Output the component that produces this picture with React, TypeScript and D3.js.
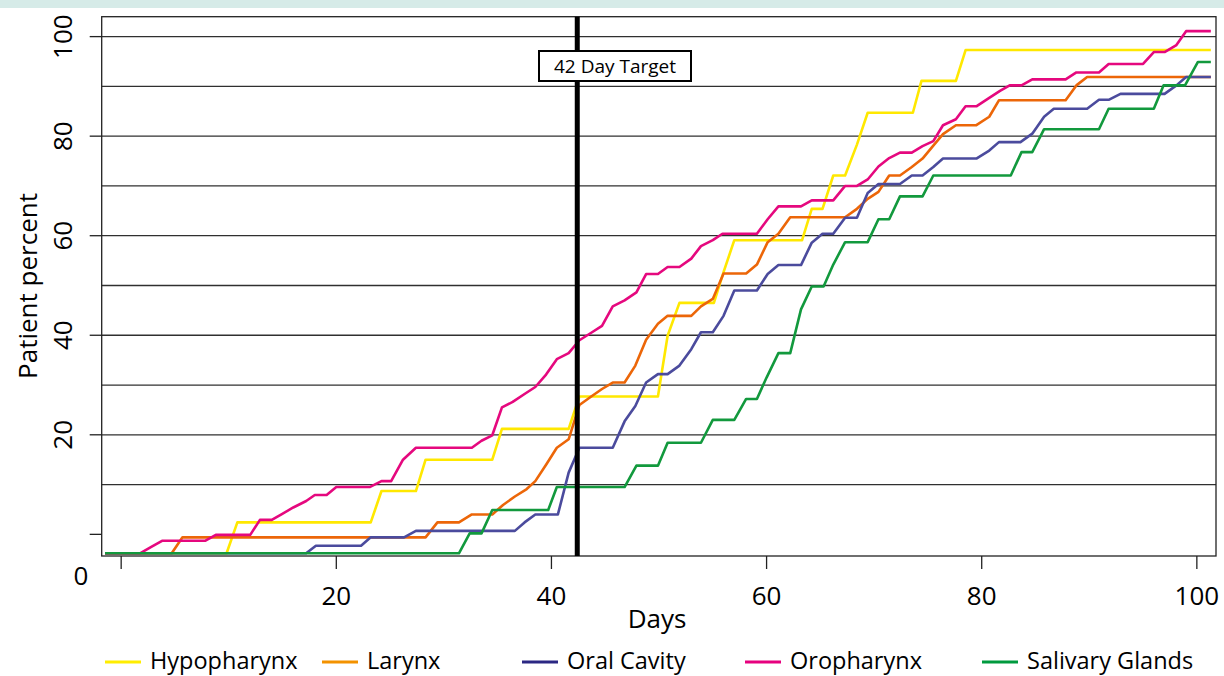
import React from "react";
import * as d3 from "d3";

// ---------- data (days, patient percent) ----------
const seriesNames = ["Hypopharynx", "Larynx", "Oral Cavity", "Oropharynx", "Salivary Glands"];

const hypopharynx: [number, number][] = [
  [-1.5, -3.8], [9.8, -3.8], [10.8, 2.4], [23.2, 2.4], [24.2, 8.7], [27.4, 8.7], [28.3, 15.0], [34.5, 15.0],
  [35.4, 21.2], [41.6, 21.2], [42.6, 27.7], [49.9, 27.7], [50.8, 39.9], [51.9, 46.5], [55.1, 46.5], [56.0, 52.7],
  [57.0, 59.1], [63.3, 59.1], [64.2, 65.4], [65.2, 65.4], [66.2, 72.1], [67.3, 72.1], [68.4, 78.3], [69.4, 84.7],
  [73.6, 84.7], [74.4, 91.1], [77.6, 91.1], [78.5, 97.3], [101.3, 97.3],
];

const larynx: [number, number][] = [
  [-1.5, -3.8], [4.7, -3.8], [5.7, -0.6], [28.3, -0.6], [29.4, 2.4], [31.4, 2.4], [32.6, 4.0], [34.5, 4.0],
  [35.5, 5.9], [36.6, 7.6], [37.7, 9.1], [38.5, 10.7], [39.5, 14.0], [40.5, 17.4], [41.6, 19.1], [42.6, 26.0],
  [43.7, 27.7], [44.7, 29.2], [45.7, 30.5], [46.8, 30.5], [47.8, 33.9], [48.8, 39.1], [49.9, 42.3], [50.8, 43.9],
  [53.0, 43.9], [53.9, 45.8], [55.0, 47.3], [56.0, 52.4], [58.1, 52.4], [59.1, 54.2], [60.1, 58.7], [61.1, 60.4],
  [62.2, 63.7], [67.3, 63.7], [68.4, 65.4], [69.4, 67.4], [70.4, 68.8], [71.4, 72.1], [72.4, 72.1], [73.5, 73.8],
  [74.5, 75.5], [75.5, 78.1], [76.4, 80.4], [77.6, 82.2], [79.5, 82.2], [80.7, 83.9], [81.6, 87.2], [87.8, 87.2],
  [88.8, 90.2], [89.8, 91.9], [101.3, 91.9],
];

const oralCavity: [number, number][] = [
  [-1.5, -3.8], [17.2, -3.8], [18.1, -2.3], [22.3, -2.3], [23.2, -0.6], [26.3, -0.6], [27.4, 0.7], [36.6, 0.7],
  [37.5, 2.4], [38.5, 4.0], [40.6, 4.0], [41.6, 12.4], [42.6, 17.4], [45.7, 17.4], [46.8, 22.7], [47.8, 25.8],
  [48.8, 30.5], [49.9, 32.2], [50.8, 32.2], [51.9, 33.9], [53.0, 37.2], [53.9, 40.6], [55.0, 40.6], [56.0, 43.9],
  [57.0, 49.0], [59.1, 49.0], [60.1, 52.3], [61.1, 54.1], [63.2, 54.1], [64.2, 58.6], [65.2, 60.4], [66.2, 60.4],
  [67.3, 63.6], [68.4, 63.6], [69.4, 68.6], [70.4, 70.4], [72.4, 70.4], [73.5, 72.1], [74.5, 72.1], [75.5, 73.8],
  [76.4, 75.5], [79.5, 75.5], [80.7, 77.1], [81.6, 78.8], [83.6, 78.8], [84.7, 80.5], [85.8, 83.9], [86.7, 85.5],
  [89.8, 85.5], [90.9, 87.3], [91.8, 87.3], [92.9, 88.5], [97.0, 88.5], [98.1, 90.2], [99.0, 91.9], [101.3, 91.9],
];

const oropharynx: [number, number][] = [
  [-1.5, -3.8], [1.75, -3.8], [2.8, -2.5], [3.8, -1.3], [7.8, -1.3], [8.8, -0.1], [12.0, -0.1], [12.9, 2.9],
  [14.0, 2.9], [14.9, 4.0], [16.0, 5.4], [17.2, 6.7], [18.0, 7.9], [19.1, 7.9], [20.0, 9.5], [23.1, 9.5],
  [24.2, 10.7], [25.1, 10.7], [26.2, 15.0], [27.4, 17.4], [32.6, 17.4], [33.5, 18.8], [34.5, 19.9], [35.4, 25.5],
  [36.4, 26.6], [37.5, 28.2], [38.5, 29.6], [39.5, 32.1], [40.5, 35.2], [41.6, 36.4], [42.6, 39.0], [43.7, 40.5],
  [44.7, 41.9], [45.7, 45.8], [46.8, 47.0], [47.9, 48.6], [48.8, 52.3], [49.9, 52.3], [50.8, 53.7], [51.9, 53.7],
  [53.0, 55.4], [53.9, 57.9], [55.0, 59.1], [55.9, 60.4], [59.1, 60.4], [60.1, 63.3], [61.1, 65.9], [63.2, 65.9],
  [64.2, 67.1], [66.2, 67.1], [67.3, 70.0], [68.4, 70.0], [69.4, 71.3], [70.4, 73.9], [71.4, 75.6], [72.4, 76.7],
  [73.5, 76.7], [74.5, 78.0], [75.5, 79.0], [76.4, 82.2], [77.6, 83.4], [78.5, 86.0], [79.5, 86.0], [80.7, 87.7],
  [81.7, 89.1], [82.6, 90.2], [83.7, 90.2], [84.7, 91.4], [87.8, 91.4], [88.8, 92.8], [90.9, 92.8], [91.8, 94.5],
  [95.0, 94.5], [96.0, 96.9], [97.0, 96.9], [98.1, 98.3], [99.0, 101.1], [101.3, 101.1],
];

const salivaryGlands: [number, number][] = [
  [-1.5, -3.8], [31.4, -3.8], [32.4, 0.2], [33.5, 0.2], [34.5, 4.9], [39.7, 4.9], [40.5, 9.5], [46.8, 9.5],
  [47.9, 13.8], [49.9, 13.8], [50.8, 18.4], [53.9, 18.4], [55.0, 23.0], [57.0, 23.0], [58.1, 27.2], [59.1, 27.2],
  [60.0, 31.5], [61.1, 36.4], [62.2, 36.4], [63.2, 45.2], [64.2, 49.8], [65.3, 49.8], [66.2, 54.2], [67.3, 58.7],
  [69.4, 58.7], [70.4, 63.3], [71.4, 63.3], [72.4, 67.9], [74.5, 67.9], [75.5, 72.1], [82.7, 72.1], [83.7, 76.8],
  [84.7, 76.8], [85.8, 81.4], [90.9, 81.4], [91.8, 85.5], [96.0, 85.5], [96.9, 90.2], [98.9, 90.2], [100.1, 94.9],
  [101.3, 94.9],
];

const seriesData = [hypopharynx, larynx, oralCavity, oropharynx, salivaryGlands];
const lineColors = ["#ffe800", "#ec6608", "#4b4b9d", "#e5087e", "#12993d"];
const legendColors = ["#ffed00", "#f39200", "#2b2783", "#e6007e", "#009a3e"];

const xTicks = [0, 20, 40, 60, 80, 100];
const xTickLabels = ["", "20", "40", "60", "80", "100"];
const yTicks = [0, 20, 40, 60, 80, 100];
const yTickLabels = ["", "20", "40", "60", "80", "100"];
const gridValues = [10, 20, 30, 40, 50, 60, 70, 80, 90, 100];
const targetDay = 42.4;
const targetLabel = "42 Day Target";

// ---------- layout ----------
const W = 1224;
const H = 676;
const plot = { left: 101.7, right: 1216, top: 16.7, bottom: 556 };
const legendX = [105, 322, 522, 745, 982];
const FONT = "'Open Sans', 'DejaVu Sans', sans-serif";

export default function App() {
  const x = d3.scaleLinear().domain([-1.81, 101.78]).range([plot.left, plot.right]);
  const y = d3.scaleLinear().domain([-4.35, 104.0]).range([plot.bottom, plot.top]);
  const line = d3
    .line<[number, number]>()
    .x((d) => x(d[0]))
    .y((d) => y(d[1]));

  const tx = x(targetDay);

  return (
    <svg
      width={W}
      height={H}
      style={{ position: "absolute", left: 0, top: 0, display: "block", background: "#fff" }}
      fontFamily={FONT}
    >
      <rect x={0} y={0} width={W} height={8} fill="#d6ebe8" />

      {/* grid lines */}
      {gridValues.map((v) => (
        <line key={v} x1={plot.left} x2={plot.right} y1={y(v)} y2={y(v)} stroke="#303030" strokeWidth={1.3} />
      ))}

      {/* frame */}
      <rect
        x={plot.left}
        y={plot.top}
        width={plot.right - plot.left}
        height={plot.bottom - plot.top}
        fill="none"
        stroke="#222"
        strokeWidth={1.3}
      />

      {/* y ticks */}
      {yTicks.map((v, i) => (
        <g key={v}>
          <line x1={plot.left - 12} x2={plot.left} y1={y(v)} y2={y(v)} stroke="#222" strokeWidth={1.3} />
          {yTickLabels[i] && (
            <text
              transform={`translate(72,${y(v)}) rotate(-90)`}
              textAnchor="middle"
              fontSize={26}
              fill="#000"
            >
              {yTickLabels[i]}
            </text>
          )}
        </g>
      ))}

      {/* x ticks */}
      {xTicks.map((v, i) => (
        <g key={v}>
          <line x1={x(v)} x2={x(v)} y1={plot.bottom} y2={plot.bottom + 13} stroke="#222" strokeWidth={1.3} />
          {xTickLabels[i] && (
            <text x={x(v)} y={605} textAnchor="middle" fontSize={26} fill="#000">
              {xTickLabels[i]}
            </text>
          )}
        </g>
      ))}
      <text x={81} y={585} textAnchor="middle" fontSize={26} fill="#000">
        0
      </text>

      {/* axis titles */}
      <text x={657} y={628} textAnchor="middle" fontSize={26} fill="#000">
        Days
      </text>
      <text transform={`translate(37,286) rotate(-90)`} textAnchor="middle" fontSize={26} fill="#000">
        Patient percent
      </text>

      {/* series */}
      {seriesData.map((s, i) => (
        <path key={seriesNames[i]} d={line(s) || ""} fill="none" stroke={lineColors[i]} strokeWidth={2.6} strokeLinejoin="round" />
      ))}

      {/* target */}
      <line x1={tx} x2={tx} y1={plot.top} y2={plot.bottom} stroke="#000" strokeWidth={5} />
      <rect x={539} y={51} width={152} height={30} fill="#fff" stroke="#000" strokeWidth={2} />
      <text x={615} y={73} textAnchor="middle" fontSize={19} fill="#000">
        {targetLabel}
      </text>

      {/* legend */}
      {seriesNames.map((n, i) => (
        <g key={n}>
          <line x1={legendX[i]} x2={legendX[i] + 36} y1={662} y2={662} stroke={legendColors[i]} strokeWidth={3} />
          <text x={legendX[i] + 45} y={669} fontSize={23.5} fill="#000">
            {n}
          </text>
        </g>
      ))}
    </svg>
  );
}
